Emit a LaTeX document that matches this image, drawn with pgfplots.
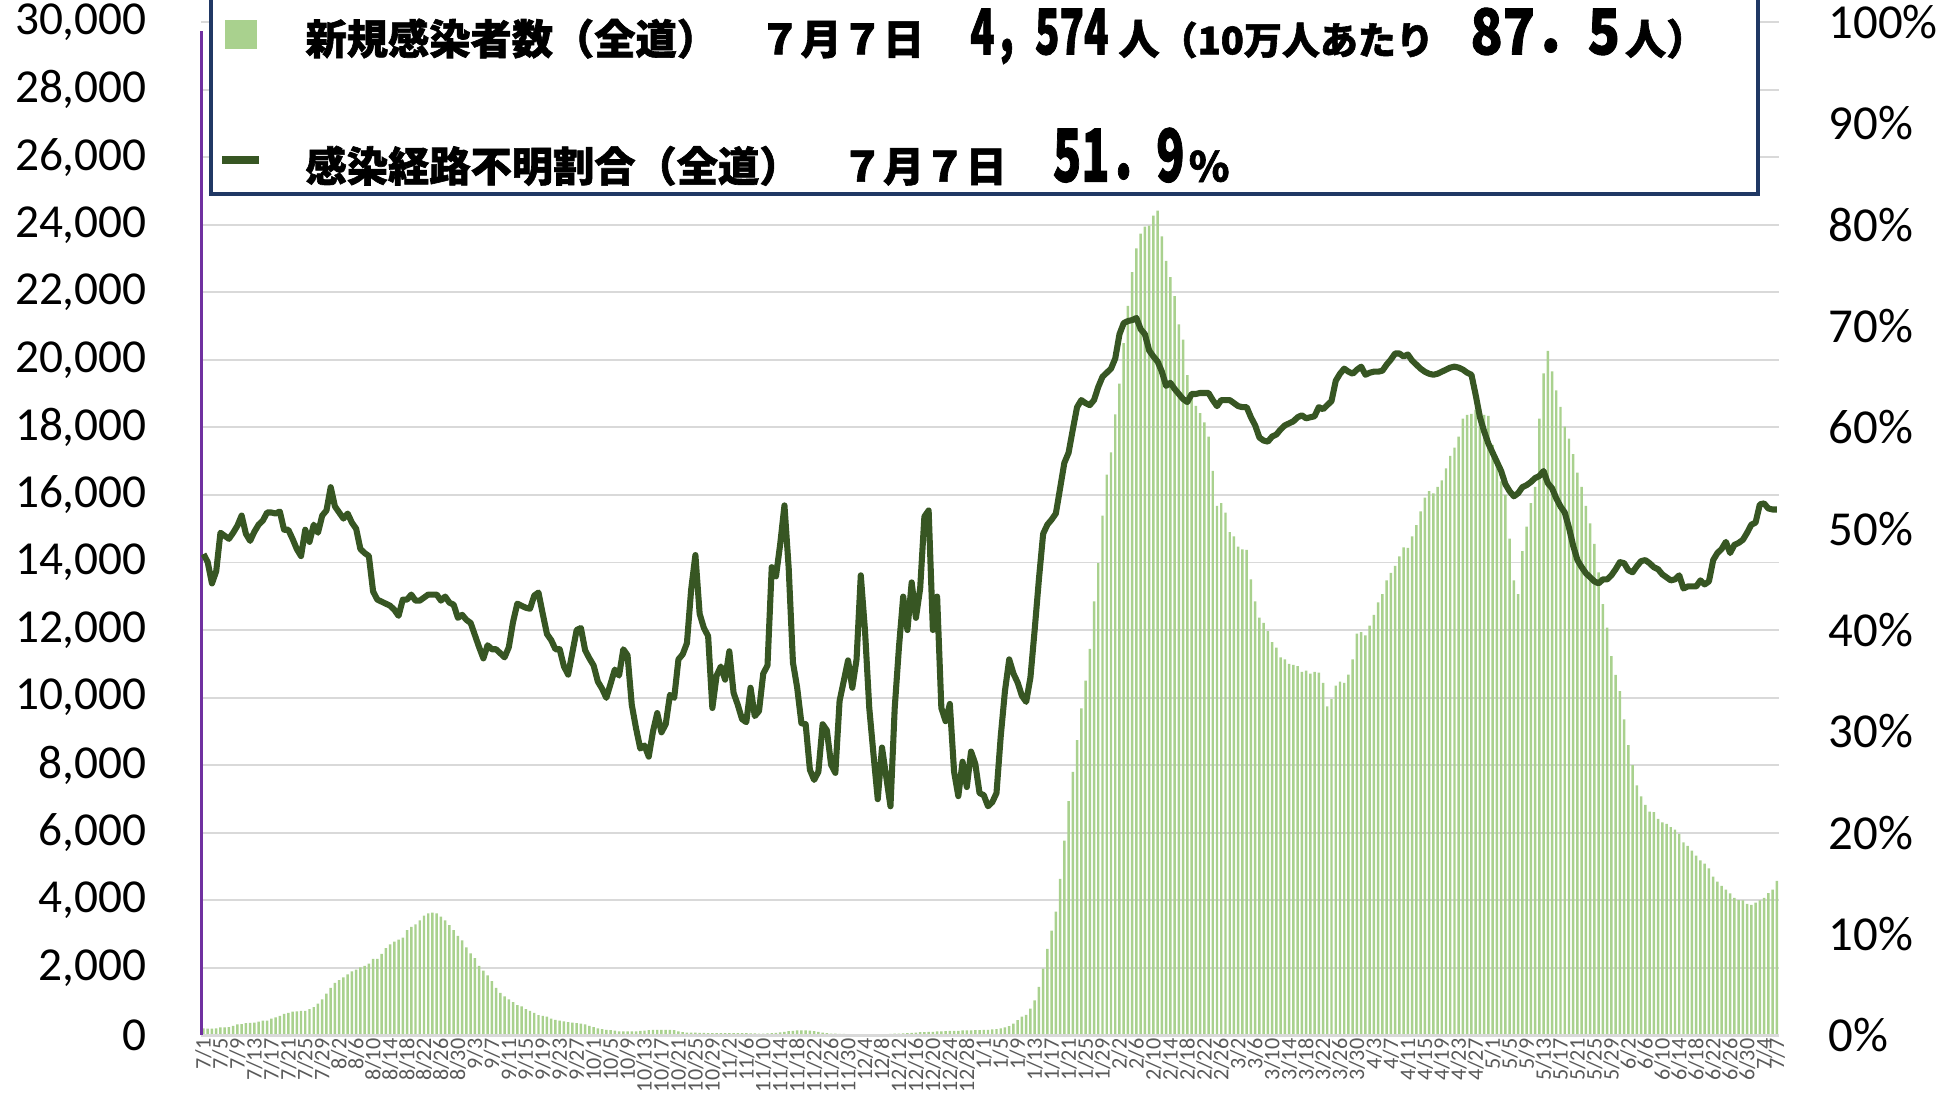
\documentclass[border=0pt]{standalone}
\usepackage{pgfplots}
\pgfplotsset{compat=1.18}
\usepackage{pgfplotstable}
\usepackage{graphicx}
\usepackage{fontspec}
\setmainfont{Carlito}
\newfontfamily\cjk{Noto Sans CJK JP}[BoldFeatures={FakeBold=1.5}]
\definecolor{barg}{HTML}{A9D18E}
\definecolor{lineg}{HTML}{375623}
\definecolor{navyb}{HTML}{203864}
\definecolor{axpurple}{HTML}{7030A0}
\definecolor{gridc}{HTML}{D9D9D9}
\definecolor{tickg}{HTML}{595959}

\pgfplotstableread[row sep=\\]{
i c p\\
0 205 47.5\\ 1 195 46.7\\ 2 195 44.6\\ 3 205 45.8\\ 4 230 49.6\\ 5 230 49.3\\ 6 240 49.0\\ 7 275 49.6\\ 8 320 50.3\\ 9 330 51.3\\
10 355 49.5\\ 11 365 48.8\\ 12 375 49.7\\ 13 400 50.4\\ 14 435 50.8\\ 15 435 51.6\\ 16 490 51.6\\ 17 525 51.5\\ 18 570 51.7\\ 19 630 49.9\\
20 660 49.9\\ 21 695 49.0\\ 22 705 48.0\\ 23 720 47.3\\ 24 720 49.9\\ 25 775 48.7\\ 26 835 50.4\\ 27 935 49.6\\ 28 1060 51.3\\ 29 1230 51.8\\
30 1400 54.1\\ 31 1550 52.2\\ 32 1630 51.6\\ 33 1710 51.0\\ 34 1800 51.5\\ 35 1890 50.6\\ 36 1940 50.0\\ 37 2010 48.0\\ 38 2050 47.6\\ 39 2120 47.3\\
40 2260 43.8\\ 41 2260 43.0\\ 42 2410 42.8\\ 43 2580 42.6\\ 44 2690 42.4\\ 45 2770 42.0\\ 46 2830 41.4\\ 47 2890 43.0\\ 48 3115 43.0\\ 49 3205 43.5\\
50 3285 42.9\\ 51 3400 42.9\\ 52 3540 43.2\\ 53 3605 43.5\\ 54 3630 43.5\\ 55 3605 43.5\\ 56 3515 42.9\\ 57 3400 43.3\\ 58 3260 42.7\\ 59 3115 42.5\\
60 2945 41.2\\ 61 2805 41.5\\ 62 2600 41.0\\ 63 2420 40.7\\ 64 2280 39.5\\ 65 2050 38.3\\ 66 1915 37.2\\ 67 1770 38.5\\ 68 1600 38.1\\ 69 1400 38.1\\
70 1255 37.7\\ 71 1150 37.3\\ 72 1060 38.3\\ 73 980 40.8\\ 74 890 42.6\\ 75 855 42.4\\ 76 775 42.2\\ 77 720 42.1\\ 78 660 43.4\\ 79 595 43.7\\
80 570 41.6\\ 81 550 39.6\\ 82 490 39.0\\ 83 455 38.1\\ 84 435 38.1\\ 85 410 36.4\\ 86 390 35.6\\ 87 375 37.8\\ 88 355 40.0\\ 89 340 40.2\\
90 320 38.0\\ 91 275 37.2\\ 92 240 36.5\\ 93 205 34.9\\ 94 180 34.2\\ 95 160 33.3\\ 96 150 34.7\\ 97 137 36.1\\ 98 115 35.5\\ 99 115 38.1\\
100 115 37.5\\ 101 115 32.6\\ 102 115 30.3\\ 103 125 28.3\\ 104 137 28.6\\ 105 150 27.5\\ 106 160 30.0\\ 107 160 31.8\\ 108 160 29.9\\ 109 160 30.7\\
110 160 33.6\\ 111 150 33.3\\ 112 115 37.1\\ 113 90 37.6\\ 114 80 38.7\\ 115 80 44.0\\ 116 80 47.4\\ 117 70 41.6\\ 118 70 40.2\\ 119 60 39.4\\
120 60 32.3\\ 121 60 35.5\\ 122 60 36.4\\ 123 60 35.1\\ 124 60 37.9\\ 125 60 33.8\\ 126 60 32.6\\ 127 60 31.2\\ 128 60 30.9\\ 129 55 34.3\\
130 55 31.5\\ 131 50 32.0\\ 132 50 35.7\\ 133 55 36.5\\ 134 60 46.2\\ 135 70 45.3\\ 136 85 48.5\\ 137 100 52.3\\ 138 120 46.1\\ 139 130 36.8\\
140 140 34.3\\ 141 145 30.8\\ 142 140 30.7\\ 143 135 26.2\\ 144 120 25.2\\ 145 100 26.0\\ 146 80 30.7\\ 147 60 30.1\\ 148 50 26.7\\ 149 45 25.9\\
150 40 33.0\\ 151 40 35.0\\ 152 35 37.0\\ 153 35 34.3\\ 154 30 37.1\\ 155 30 45.4\\ 156 25 39.9\\ 157 25 32.3\\ 158 25 27.7\\ 159 30 23.3\\
160 30 28.4\\ 161 35 25.5\\ 162 40 22.6\\ 163 45 32.3\\ 164 50 38.3\\ 165 55 43.3\\ 166 60 40.0\\ 167 70 44.7\\ 168 80 41.2\\ 169 90 44.1\\
170 95 51.2\\ 171 100 51.8\\ 172 100 40.0\\ 173 110 43.3\\ 174 115 32.3\\ 175 120 31.0\\ 176 125 32.7\\ 177 130 26.0\\ 178 130 23.6\\ 179 140 27.0\\
180 140 24.5\\ 181 145 28.0\\ 182 150 26.8\\ 183 150 23.9\\ 184 155 23.7\\ 185 160 22.6\\ 186 170 23.0\\ 187 180 23.9\\ 188 200 29.5\\ 189 230 34.0\\
190 270 37.1\\ 191 340 35.7\\ 192 450 34.8\\ 193 548 33.5\\ 194 600 32.9\\ 195 790 35.3\\ 196 1030 40.0\\ 197 1435 45.0\\ 198 1970 49.5\\ 199 2560 50.4\\
200 3100 50.9\\ 201 3660 51.5\\ 202 4630 54.0\\ 203 5760 56.5\\ 204 6935 57.5\\ 205 7800 59.8\\ 206 8740 62.0\\ 207 9680 62.7\\ 208 10500 62.4\\ 209 11440 62.2\\
210 12850 62.7\\ 211 13980 64.0\\ 212 15390 65.0\\ 213 16600 65.4\\ 214 17260 65.8\\ 215 18390 66.8\\ 216 19300 69.2\\ 217 20500 70.3\\ 218 21600 70.5\\ 219 22600 70.6\\
220 23300 70.8\\ 221 23740 69.7\\ 222 23950 69.2\\ 223 23980 67.6\\ 224 24270 67.0\\ 225 24420 66.5\\ 226 23660 65.5\\ 227 22930 64.1\\ 228 22450 64.4\\ 229 21890 63.8\\
230 21050 63.3\\ 231 20600 62.8\\ 232 19550 62.5\\ 233 19060 63.3\\ 234 18640 63.3\\ 235 18420 63.4\\ 236 18150 63.4\\ 237 17730 63.4\\ 238 16710 62.7\\ 239 15680 62.1\\
240 15760 62.7\\ 241 15480 62.7\\ 242 14900 62.7\\ 243 14770 62.4\\ 244 14470 62.1\\ 245 14390 62.0\\ 246 14370 62.0\\ 247 13500 61.0\\ 248 12850 60.2\\ 249 12370 59.0\\
250 12210 58.7\\ 251 11970 58.6\\ 252 11640 59.1\\ 253 11480 59.3\\ 254 11190 59.8\\ 255 11130 60.2\\ 256 11000 60.4\\ 257 10970 60.6\\ 258 10930 61.0\\ 259 10760 61.2\\
260 10800 60.9\\ 261 10710 61.0\\ 262 10760 61.1\\ 263 10740 62.0\\ 264 10435 61.8\\ 265 9740 62.2\\ 266 9950 62.6\\ 267 10355 64.6\\ 268 10470 65.3\\ 269 10435 65.8\\
270 10680 65.5\\ 271 11130 65.3\\ 272 11890 65.7\\ 273 11935 66.0\\ 274 11840 65.2\\ 275 12130 65.4\\ 276 12450 65.5\\ 277 12820 65.5\\ 278 13065 65.6\\ 279 13470 66.2\\
280 13690 66.7\\ 281 13900 67.3\\ 282 14180 67.3\\ 283 14450 67.0\\ 284 14435 67.2\\ 285 14770 66.6\\ 286 15110 66.2\\ 287 15515 65.8\\ 288 15920 65.5\\ 289 16110 65.3\\
290 16050 65.2\\ 291 16240 65.3\\ 292 16435 65.5\\ 293 16790 65.7\\ 294 17160 65.9\\ 295 17400 66.0\\ 296 17730 65.9\\ 297 18260 65.7\\ 298 18370 65.4\\ 299 18400 65.2\\
300 18530 63.2\\ 301 18100 61.0\\ 302 18370 59.6\\ 303 18340 58.4\\ 304 17480 57.5\\ 305 17080 56.6\\ 306 16400 55.7\\ 307 16000 54.4\\ 308 14710 53.7\\ 309 13470 53.2\\
310 13060 53.5\\ 311 14340 54.1\\ 312 15060 54.3\\ 313 15760 54.6\\ 314 16240 55.0\\ 315 18260 55.2\\ 316 19600 55.7\\ 317 20270 54.5\\ 318 19660 54.0\\ 319 19100 53.0\\
320 18610 52.2\\ 321 18020 51.6\\ 322 17670 50.1\\ 323 17210 48.3\\ 324 16660 46.9\\ 325 16240 46.2\\ 326 15680 45.6\\ 327 15160 45.2\\ 328 14550 44.8\\ 329 13710 44.6\\
330 12770 45.0\\ 331 12070 45.0\\ 332 11230 45.4\\ 333 10670 46.0\\ 334 10190 46.7\\ 335 9350 46.6\\ 336 8590 45.9\\ 337 8000 45.7\\ 338 7400 46.3\\ 339 7070 46.8\\
340 6820 46.9\\ 341 6620 46.6\\ 342 6610 46.2\\ 343 6410 46.0\\ 344 6300 45.5\\ 345 6260 45.2\\ 346 6160 44.9\\ 347 6090 45.0\\ 348 5960 45.4\\ 349 5710 44.1\\
350 5610 44.3\\ 351 5470 44.3\\ 352 5320 44.3\\ 353 5180 44.9\\ 354 5080 44.5\\ 355 4940 44.8\\ 356 4700 46.9\\ 357 4550 47.6\\ 358 4420 48.0\\ 359 4310 48.7\\
360 4200 47.6\\ 361 4070 48.4\\ 362 4000 48.6\\ 363 3990 48.9\\ 364 3890 49.6\\ 365 3860 50.4\\ 366 3930 50.6\\ 367 3990 52.4\\ 368 4070 52.5\\ 369 4210 52.0\\
370 4310 51.9\\ 371 4574 51.9\\
}\data

\begin{document}
\begin{tikzpicture}
\begin{axis}[
  at={(32.6mm,10.8mm)}, anchor=south west,
  scale only axis, width=255.4mm, height=164mm,
  xmin=-0.5, xmax=371.5, ymin=0, ymax=30000,
  axis line style={draw=none},
  clip=false,
  major tick length=0pt,
  ytick={0,2000,...,30000},
  ymajorgrids, grid style={gridc, line width=0.9pt},
  scaled y ticks=false,
  /pgf/number format/assume math mode=true,
  yticklabel style={/pgf/number format/fixed, /pgf/number format/1000 sep={,},
    font=\fontsize{21.8}{24}\selectfont, xshift=-7.6mm},
  xtick={0,4,8,12,16,20,24,28,32,36,40,44,48,52,56,60,64,68,72,76,80,84,88,92,96,100,104,108,112,116,120,124,128,132,136,140,144,148,152,156,160,164,168,172,176,180,184,188,192,196,200,204,208,212,216,220,224,228,232,236,240,244,248,252,256,260,264,268,272,276,280,284,288,292,296,300,304,308,312,316,320,324,328,332,336,340,344,348,352,356,360,364,368,371},
  xticklabels={7/1,7/5,7/9,7/13,7/17,7/21,7/25,7/29,8/2,8/6,8/10,8/14,8/18,8/22,8/26,8/30,9/3,9/7,9/11,9/15,9/19,9/23,9/27,10/1,10/5,10/9,10/13,10/17,10/21,10/25,10/29,11/2,11/6,11/10,11/14,11/18,11/22,11/26,11/30,12/4,12/8,12/12,12/16,12/20,12/24,12/28,1/1,1/5,1/9,1/13,1/17,1/21,1/25,1/29,2/2,2/6,2/10,2/14,2/18,2/22,2/26,3/2,3/6,3/10,3/14,3/18,3/22,3/26,3/30,4/3,4/7,4/11,4/15,4/19,4/23,4/27,5/1,5/5,5/9,5/13,5/17,5/21,5/25,5/29,6/2,6/6,6/10,6/14,6/18,6/22,6/26,6/30,7/4,7/7},
  xticklabel style={rotate=90, anchor=east, font=\fontsize{10.2}{10.2}\selectfont, text=tickg, inner sep=1.4pt},
]
\addplot[ybar, bar width=0.58, fill=barg, draw=none] table[x=i, y=c] {\data};
\draw[gridc, line width=1.2pt] (axis cs:-0.5,0) -- (axis cs:371.5,0);
\draw[axpurple, line width=1.1pt] (axis cs:-0.5,0) -- (axis cs:-0.5,29750);
\end{axis}
\begin{axis}[
  at={(32.6mm,10.8mm)}, anchor=south west,
  scale only axis, width=255.4mm, height=164mm,
  xmin=-0.5, xmax=371.5, ymin=0, ymax=100,
  axis line style={draw=none},
  major tick length=0pt,
  xtick=\empty,
  ytick={0,10,...,100},
  yticklabel pos=right,
  /pgf/number format/assume math mode=true,
  yticklabel={\pgfmathprintnumber{\tick}\%},
  yticklabel style={font=\fontsize{22.5}{24}\selectfont, xshift=6.8mm},
]
\addplot[lineg, line width=2.8pt, line join=round, no markers] table[x=i, y=p] {\data};
\end{axis}
% legend box
\draw[navyb, line width=1.9pt, fill=white] (34.2mm,147mm) rectangle (284.6mm,192mm);
\fill[barg] (36.4mm,170.4mm) rectangle (41.6mm,175.2mm);
\fill[lineg] (36.0mm,151.8mm) rectangle (42.0mm,153.2mm);
\node[anchor=base west, inner sep=0] at (49.4mm,169.6mm) {\cjk\bfseries\fontsize{19}{19}\selectfont 新規感染者数（全道）　７月７日};
\node[anchor=base west, inner sep=0] at (157mm,169.6mm) {\cjk\bfseries\fontsize{29}{29}\selectfont\scalebox{0.64}[1]{4，574}};
\node[anchor=base west, inner sep=0] at (181mm,169.6mm) {\cjk\bfseries\fontsize{19}{19}\selectfont 人{\fontsize{17.5}{17.5}\selectfont（10万人あたり}};
\node[anchor=base west, inner sep=0] at (238mm,169.6mm) {\cjk\bfseries\fontsize{29}{29}\selectfont\scalebox{0.84}[1]{87．5}};
\node[anchor=base west, inner sep=0] at (263mm,169.6mm) {\cjk\bfseries\fontsize{19}{19}\selectfont 人）};
\node[anchor=base west, inner sep=0] at (49.4mm,149mm) {\cjk\bfseries\fontsize{19}{19}\selectfont 感染経路不明割合（全道）　７月７日};
\node[anchor=base west, inner sep=0] at (170.4mm,149mm) {\cjk\bfseries\fontsize{33.5}{33.5}\selectfont\scalebox{0.64}[1]{51．9}};
\node[anchor=base west, inner sep=0] at (192.4mm,149mm) {\cjk\bfseries\fontsize{19}{19}\selectfont \%};
\pgfresetboundingbox
\path[use as bounding box] (0,0) rectangle (313.6mm,178.4mm);
\end{tikzpicture}
\end{document}
